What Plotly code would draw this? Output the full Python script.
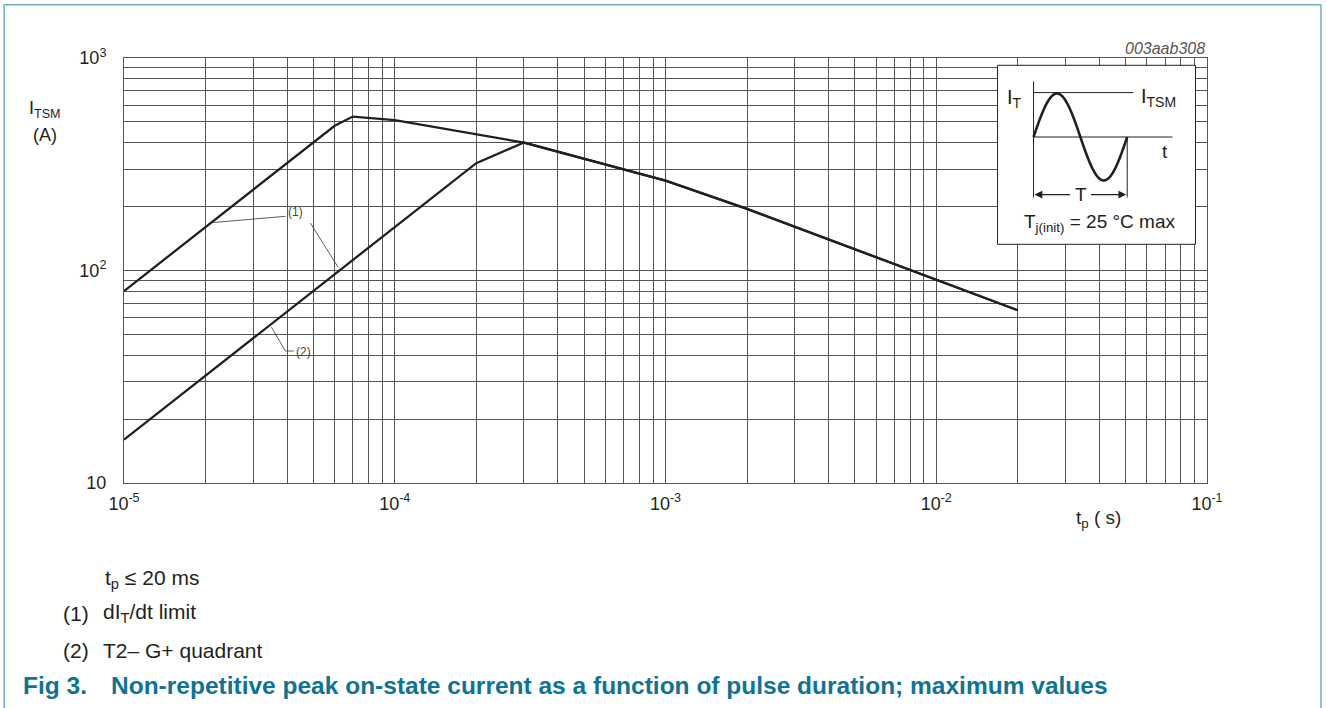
import numpy as np
import plotly.graph_objects as go

# ---- data ----
tp_1 = [1e-5, 6e-5, 7e-5, 1e-4, 3e-4, 1e-3, 2e-3, 1e-2, 2e-2]
itsm_1 = [80, 480, 530, 510, 400, 265, 195, 91, 65]
tp_2 = [1e-5, 2e-4, 3e-4, 1e-3, 2e-3, 1e-2, 2e-2]
itsm_2 = [16, 320, 400, 265, 195, 91, 65]

x_major = [1e-5, 1e-4, 1e-3, 1e-2, 1e-1]
x_major_text = ["10<sup>-5</sup>", "10<sup>-4</sup>", "10<sup>-3</sup>", "10<sup>-2</sup>", "10<sup>-1</sup>"]
y_major = [10, 100, 1000]
y_major_text = ["10", "10<sup>2</sup>", "10<sup>3</sup>"]
x_minor = [m * 10.0 ** d for d in [-5, -4, -3, -2] for m in range(2, 10)]
y_minor = [m * 10.0 ** d for d in [1, 2] for m in range(2, 10)]

FONT = "Liberation Sans, Arial, Helvetica, sans-serif"
INK = "#231f20"
GRID = "#555555"
TEAL = "#0f7391"
BORDER = "#6fb0c4"

W, H = 1327, 708
L, R, T, B = 124.3, 1207.5, 57.7, 482.7


def PX(x):
    return (x - L) / (R - L)


def PY(y):
    return (B - y) / (B - T)


fig = go.Figure()
fig.add_trace(go.Scatter(x=tp_1, y=itsm_1, mode="lines",
                         line=dict(color=INK, width=2.3), hoverinfo="skip", showlegend=False))
fig.add_trace(go.Scatter(x=tp_2, y=itsm_2, mode="lines",
                         line=dict(color=INK, width=2.3), hoverinfo="skip", showlegend=False))

axis_common = dict(showgrid=True, gridcolor=GRID, gridwidth=1, showline=True, linecolor=GRID,
                   linewidth=1, mirror=True, ticks="", zeroline=False,
                   tickfont=dict(family=FONT, size=18, color=INK))
fig.update_xaxes(type="log", range=[-5, -1], tickmode="array", tickvals=x_major,
                 ticktext=x_major_text, ticklabelstandoff=4,
                 minor=dict(tickmode="array", tickvals=x_minor, showgrid=True,
                            gridcolor=GRID, gridwidth=1, ticks=""),
                 **axis_common)
fig.update_yaxes(type="log", range=[1, 3], tickmode="array", tickvals=y_major,
                 ticktext=y_major_text, ticklabelstandoff=13,
                 minor=dict(tickmode="array", tickvals=y_minor, showgrid=True,
                            gridcolor=GRID, gridwidth=1, ticks=""),
                 **axis_common)

shapes = []
annotations = []


def line(x0, y0, x1, y1, color=INK, width=1.0):
    shapes.append(dict(type="line", xref="paper", yref="paper", x0=PX(x0), y0=PY(y0),
                       x1=PX(x1), y1=PY(y1), line=dict(color=color, width=width), layer="above"))


def text(x, y, s, size=16, color=INK, xanchor="center", yanchor="middle", **kw):
    annotations.append(dict(xref="paper", yref="paper", x=PX(x), y=PY(y), text=s, showarrow=False,
                            xanchor=xanchor, yanchor=yanchor,
                            font=dict(family=FONT, size=size, color=color), **kw))


# outer frame
shapes.append(dict(type="rect", xref="paper", yref="paper", x0=PX(4.5), y0=PY(730), x1=PX(1321.5),
                   y1=PY(4.5), line=dict(color=BORDER, width=1.5), layer="above"))

# inset box
shapes.append(dict(type="rect", xref="paper", yref="paper", x0=PX(998), y0=PY(244), x1=PX(1196),
                   y1=PY(65), fillcolor="white", line=dict(color=INK, width=1), layer="above"))
line(1034, 81, 1034, 197)
line(1034, 136.7, 1173, 136.7)
line(1034, 92.3, 1134, 92.3)
line(1127.7, 136.7, 1127.7, 197)
s = np.linspace(0, 1, 80)
sx = 1034 + 93.7 * s
sy = 136.7 - 43.5 * np.sin(2 * np.pi * s)
path = "M " + " L ".join("%.5f,%.5f" % (PX(a), PY(b)) for a, b in zip(sx, sy))
shapes.append(dict(type="path", xref="paper", yref="paper", path=path,
                   line=dict(color=INK, width=2.6), layer="above"))

# T arrows
for xh, xt in [(1035, 1072), (1126.7, 1090)]:
    annotations.append(dict(xref="paper", yref="paper", axref="pixel", ayref="pixel",
                            x=PX(xh), y=PY(194.3), ax=xt - xh, ay=0, text="",
                            showarrow=True, arrowhead=2, arrowsize=1.2, arrowwidth=1.3,
                            arrowcolor=INK))
text(1081, 194.5, "T", size=19)
text(1015, 98, "I<sub>T</sub>", size=20)
text(1139, 97, "I<sub>TSM</sub>", size=20, xanchor="left")
text(1165, 151, "t", size=19)
text(1100, 223, "T<sub>j(init)</sub> = 25 °C max", size=19)

# curve labels and leaders
text(296, 212, "(1)", size=12, color="#444444")
line(212.7, 222.3, 286, 216, color="#333333", width=0.8)
line(310.7, 222.7, 338.3, 266.7, color="#333333", width=0.8)
text(304, 352, "(2)", size=12, color="#444444")
line(271.7, 326.7, 285.7, 350.7, color="#333333", width=0.8)
line(285.7, 350.7, 294, 350.7, color="#333333", width=0.8)

# axis titles and id
text(45, 109, "I<sub>TSM</sub>", size=18)
text(45, 135, "(A)", size=18)
text(1099, 519, "t<sub>p</sub> ( s)", size=19)
text(1208, 48, "<i>003aab308</i>", size=16, color="#555555", xanchor="right")

# notes
text(103, 579, "t<sub>p</sub> ≤ 20 ms", size=21, xanchor="left")
text(61, 613, "(1)", size=21, xanchor="left")
text(101, 613, "dI<sub>T</sub>/dt limit", size=21, xanchor="left")
text(61, 650, "(2)", size=21, xanchor="left")
text(101, 650, "T2– G+ quadrant", size=21, xanchor="left")
text(21, 685, "<b>Fig 3.</b>", size=24.5, color=TEAL, xanchor="left")
text(109, 685, "<b>Non-repetitive peak on-state current as a function of pulse duration; maximum values</b>",
     size=24.5, color=TEAL, xanchor="left")

fig.update_layout(width=W, height=H, autosize=False,
                  margin=dict(l=L, r=W - R, t=T, b=H - B, pad=0),
                  paper_bgcolor="white", plot_bgcolor="white",
                  shapes=shapes, annotations=annotations,
                  font=dict(family=FONT, color=INK))

fig.write_html("out.html", config={"displayModeBar": False},
               post_script="document.body.style.margin='0';")
